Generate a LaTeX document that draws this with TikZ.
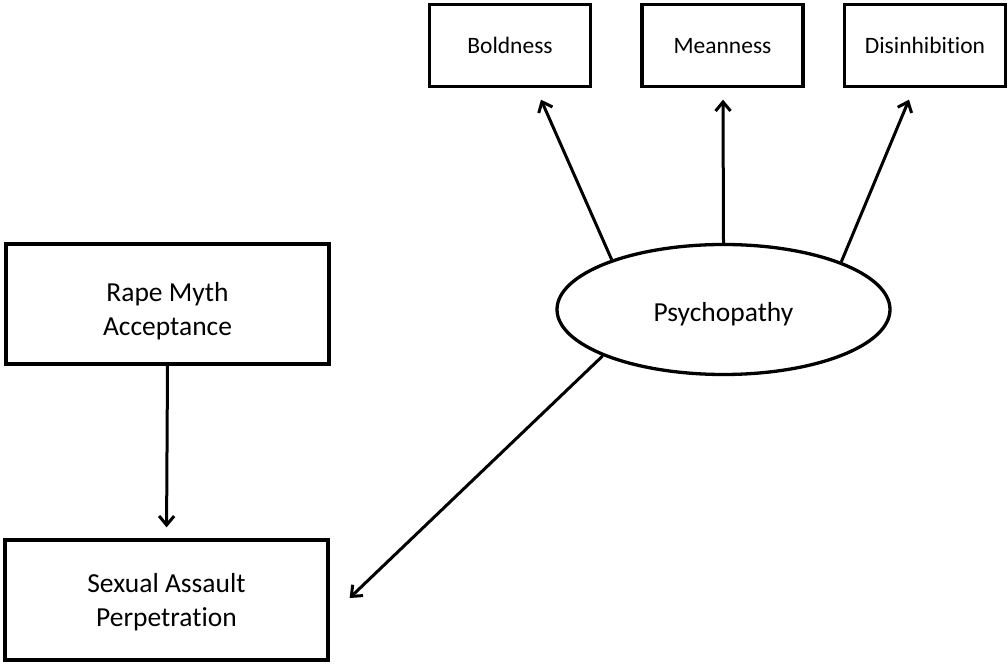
\documentclass[tikz,border=0pt]{standalone}
\usepackage{fontspec}
\setmainfont[Ligatures=NoCommon]{Carlito}
\usetikzlibrary{arrows.meta,shapes.geometric}
\begin{document}
\begin{tikzpicture}[x=1pt,y=1pt,
  box/.style={draw, line width=3.3pt, inner sep=0pt, align=center,
    font=\fontsize{27.5}{34}\selectfont},
  itembox/.style={box, minimum width=161pt, minimum height=82pt,
    text height=17pt, text depth=0pt,
    font=\fontsize{23.5}{28}\selectfont},
  bigbox/.style={box, minimum width=323pt, minimum height=120pt},
  latent/.style={draw, ellipse, line width=3.3pt, inner sep=0pt,
    minimum width=333pt, minimum height=130pt,
    text height=30pt, text depth=6pt,
    font=\fontsize{27.5}{34}\selectfont},
  link/.style={line width=3pt, -{Straight Barb[length=9pt,width=15pt]}}
]
\useasboundingbox (0,0) rectangle (1008,664);

% indicators of the latent factor
\node[itembox] (bold) at (510,618.5) {Boldness};
\node[itembox] (mean) at (722.5,618.5) {Meanness};
\node[itembox] (dis)  at (925,618.5) {Disinhibition};

% latent factor
\node[latent] (psy) at (723.5,354.5) {Psychopathy};

% observed variables
\node[bigbox] (rma) at (167.5,360) {\rule{0pt}{34pt}Rape Myth\\Acceptance};
\node[bigbox] (sap) at (166.5,64) {\rule{0pt}{24pt}Sexual Assault\\Perpetration};

% arrow end points just short of the target boxes
\coordinate (tb) at ([xshift=31pt,yshift=-11.5pt]bold.south);
\coordinate (tm) at ([xshift=0.5pt,yshift=-11.5pt]mean.south);
\coordinate (td) at ([xshift=-16pt,yshift=-11.5pt]dis.south);
\coordinate (ts) at ([xshift=20pt,yshift=2pt]sap.east);

\draw[link] (psy.156) -- (tb);
\draw[link] (psy.north) -- (tm);
\draw[link] (psy.22) -- (td);
\draw[link] (psy.201.5) -- (ts);
\draw[link, shorten >=11pt] (rma.south) -- (sap.north);
\end{tikzpicture}
\end{document}
